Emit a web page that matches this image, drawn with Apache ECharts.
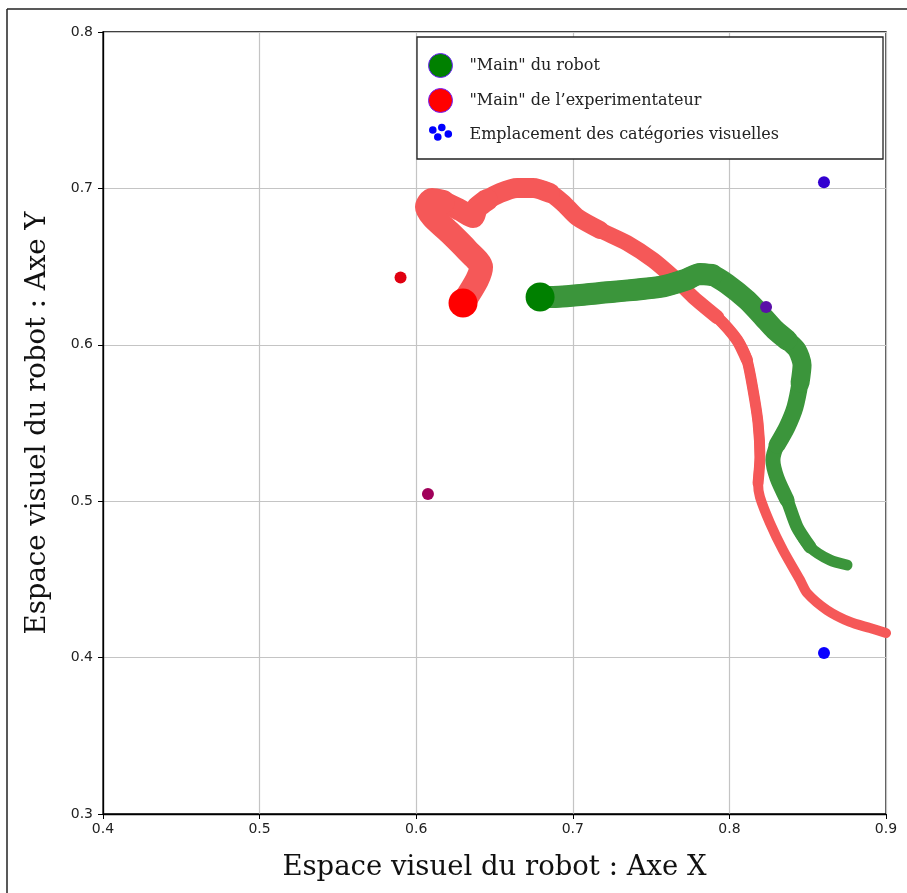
<!DOCTYPE html>
<html>
<head>
<meta charset="utf-8">
<script src="https://cdn.jsdelivr.net/npm/echarts@6/dist/echarts.min.js"></script>
<style>html,body{margin:0;padding:0;background:#fff}#c{width:907px;height:893px}</style>
</head>
<body>
<div id="c"></div>
<script>
// Axis ticks
const xTicks = [0.4, 0.5, 0.6, 0.7, 0.8, 0.9];
const yTicks = [0.3, 0.4, 0.5, 0.6, 0.7, 0.8];

// "Main" de l'experimentateur (red trajectory)
const redPath = [
  [0.6299,0.6267],[0.6388,0.6414],[0.6414,0.6497],[0.6324,0.6606],[0.6216,0.6715],
  [0.6107,0.6817],[0.6069,0.6881],[0.6101,0.6926],[0.6171,0.6913],[0.6280,0.6862],
  [0.6363,0.6817],[0.6388,0.6875],[0.6452,0.6926],[0.6535,0.6971],[0.6644,0.7003],
  [0.6746,0.7003],[0.6854,0.6971],[0.6937,0.6907],[0.7027,0.6817],[0.7174,0.6734],
  [0.7346,0.6651],[0.7512,0.6542],[0.7640,0.6433],[0.7768,0.6306],[0.7921,0.6178],
  [0.8049,0.6031],[0.8112,0.5903],[0.8151,0.5711],[0.8183,0.5500],[0.8195,0.5283],
  [0.8183,0.5116],[0.8195,0.5027],[0.8259,0.4861],[0.8342,0.4688],[0.8451,0.4496],
  [0.8496,0.4413],[0.8623,0.4304],[0.8770,0.4228],[0.8898,0.4189],[0.9000,0.4157]
];
// "Main" du robot (green trajectory)
const greenPath = [
  [0.6791,0.6306],[0.6874,0.6306],[0.7174,0.6331],[0.7557,0.6370],[0.7716,0.6414],
  [0.7812,0.6453],[0.7889,0.6446],[0.7985,0.6389],[0.8112,0.6286],[0.8215,0.6178],
  [0.8291,0.6095],[0.8368,0.6031],[0.8432,0.5967],[0.8464,0.5871],[0.8451,0.5756],
  [0.8419,0.5602],[0.8368,0.5474],[0.8304,0.5359],[0.8278,0.5263],[0.8304,0.5148],
  [0.8368,0.5008],[0.8432,0.4835],[0.8515,0.4707],[0.8642,0.4624],[0.8751,0.4592]
];
// Visual category locations
const catX = [0.590, 0.6075, 0.8234, 0.8604, 0.8604];
const catY = [0.643, 0.5046, 0.6242, 0.704, 0.403];
const catColors = ['#e00010', '#a0005a', '#5a10a8', '#3300d0', '#0a00ff'];

// taper layers: [last point index of prefix, stroke width px] (style only)
const redTaper = [[39, 10], [30, 11], [26, 12], [24, 14], [22, 16], [19, 18], [16, 20], [12, 22], [8, 24]];
const greenTaper = [[24, 11], [22, 13], [20, 15], [17, 17], [14, 19], [11, 21], [6, 22]];

const names = ['"Main" du robot', '"Main" de l\u2019experimentateur', 'Emplacement des catégories visuelles'];

const series = [];
function addPath(path, taper, color, z) {
  taper.forEach(([end, w]) => {
    series.push({
      type: 'line', data: path.slice(0, end + 1), showSymbol: false, silent: true, z: z, smooth: 0.25,
      lineStyle: { width: w, color: color, cap: 'round', join: 'round' }
    });
  });
}
addPath(redPath, redTaper, '#f55858', 2);
addPath(greenPath, greenTaper, '#3b953b', 3);

series.push({
  type: 'scatter', name: names[0], data: [greenPath[0]], symbolSize: 29, z: 5,
  itemStyle: { color: '#008000', opacity: 1 }
});
series.push({
  type: 'scatter', name: names[1], data: [redPath[0]], symbolSize: 29, z: 5,
  itemStyle: { color: '#ff0000', opacity: 1 }
});
series.push({
  type: 'scatter', name: names[2], z: 6, symbolSize: 12,
  itemStyle: { color: '#0000ff', opacity: 1 },
  data: catX.map((x, i) => ({ value: [x, catY[i]], itemStyle: { color: catColors[i] } }))
});

const dotsIcon = 'path://M0,0L0,0.01L0.01,0Z M24,24L24,23.99L23.99,24Z ' +
  'M0.5,7a3.8,3.8 0 1,0 7.6,0a3.8,3.8 0 1,0 -7.6,0Z ' +
  'M9.5,4.5a3.8,3.8 0 1,0 7.6,0a3.8,3.8 0 1,0 -7.6,0Z ' +
  'M16,11a3.8,3.8 0 1,0 7.6,0a3.8,3.8 0 1,0 -7.6,0Z ' +
  'M5.5,14a3.8,3.8 0 1,0 7.6,0a3.8,3.8 0 1,0 -7.6,0Z';

const axisCommon = {
  type: 'value',
  axisLine: { show: true, onZero: false, lineStyle: { color: '#000', width: 1.3 } },
  axisTick: { show: true, length: 5, lineStyle: { color: '#000' } },
  splitLine: { show: true, lineStyle: { color: '#c4c4c4', width: 1.2 } },
  axisLabel: { fontFamily: 'DejaVu Sans', fontSize: 14, color: '#222', formatter: v => String(+v.toFixed(1)) },
  nameLocation: 'middle',
  nameTextStyle: { fontFamily: 'DejaVu Serif', fontSize: 27.5, color: '#111' }
};

const option = {
  animation: false,
  backgroundColor: '#fff',
  grid: { left: 103, right: 21, top: 32, bottom: 79, show: true, borderColor: '#000', borderWidth: 1.3, backgroundColor: 'transparent' },
  xAxis: Object.assign({}, axisCommon, {
    min: xTicks[0], max: xTicks[xTicks.length - 1], interval: 0.1,
    name: 'Espace visuel du robot : Axe X', nameGap: 40,
    axisLabel: Object.assign({}, axisCommon.axisLabel, { margin: 8 })
  }),
  yAxis: Object.assign({}, axisCommon, {
    min: yTicks[0], max: yTicks[yTicks.length - 1], interval: 0.1,
    name: 'Espace visuel du robot : Axe Y', nameGap: 51,
    axisLabel: Object.assign({}, axisCommon.axisLabel, { margin: 10 })
  }),
  legend: {
    orient: 'vertical', left: 417, top: 37,
    padding: [16, 104, 12, 11],
    itemWidth: 24, itemHeight: 24, itemGap: 10,
    backgroundColor: '#fff', borderColor: '#222', borderWidth: 1.3,
    textStyle: { fontFamily: 'DejaVu Serif', fontSize: 16, color: '#222', padding: [0, 0, 0, 12] },
    data: [
      { name: names[0], icon: 'circle', itemStyle: { borderColor: '#7020ff', borderWidth: 1 } },
      { name: names[1], icon: 'circle', itemStyle: { borderColor: '#7020ff', borderWidth: 1 } },
      { name: names[2], icon: dotsIcon, itemStyle: { color: '#0000ff', borderWidth: 0 } }
    ]
  },
  graphic: [
    { type: 'line', shape: { x1: 7, y1: 9, x2: 907, y2: 9 }, style: { stroke: '#222', lineWidth: 1.5 }, silent: true },
    { type: 'line', shape: { x1: 7, y1: 9, x2: 7, y2: 893 }, style: { stroke: '#222', lineWidth: 1.5 }, silent: true }
  ],
  series: series
};

const chart = echarts.init(document.getElementById('c'), null, { renderer: 'canvas' });
chart.setOption(option);
</script>
</body>
</html>
